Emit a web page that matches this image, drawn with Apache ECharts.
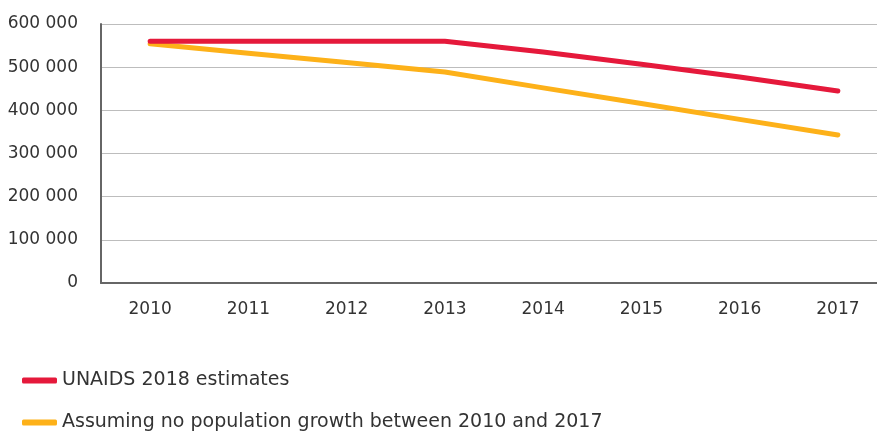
<!DOCTYPE html>
<html>
<head>
<meta charset="utf-8">
<script src="https://cdn.jsdelivr.net/npm/echarts@6/dist/echarts.min.js"></script>
<style>html,body{margin:0;padding:0;background:#fff;overflow:hidden}#c{width:887px;height:432px}</style>
</head>
<body>
<div id="c"></div>
<script>
var categories = ['2010','2011','2012','2013','2014','2015','2016','2017'];
var unaidsEstimates = [560000, 560000, 560000, 560000, 535000, 507000, 477000, 445000];
var noPopGrowth = [554000, 532000, 511000, 489000, 452000, 416000, 379000, 343000];
var seriesNames = ['UNAIDS 2018 estimates', 'Assuming no population growth between 2010 and 2017'];

var chart = echarts.init(document.getElementById('c'));
var font = '"DejaVu Sans", sans-serif';
function legendAt(name, top) {
  return {
    orient: 'horizontal', left: 22, top: top, padding: 0,
    itemWidth: 35, itemHeight: 6, icon: 'roundRect',
    textStyle: {fontFamily: font, fontSize: 19, color: '#333'},
    data: [name]
  };
}
chart.setOption({
  animation: false,
  grid: {left: 101, right: 0, top: 24, bottom: 149, containLabel: false},
  legend: [legendAt(seriesNames[0], 371), legendAt(seriesNames[1], 413)],
  xAxis: {
    type: 'category', data: categories, boundaryGap: true,
    axisLine: {lineStyle: {color: '#666', width: 2}},
    axisTick: {show: false},
    axisLabel: {fontFamily: font, fontSize: 17, color: '#333', margin: 18}
  },
  yAxis: {
    type: 'value', min: 0, max: 600000, interval: 100000,
    axisLine: {show: true, lineStyle: {color: '#666', width: 2}},
    axisTick: {show: false},
    splitLine: {lineStyle: {color: '#bdbdbd', width: 1}},
    axisLabel: {fontFamily: font, fontSize: 17, color: '#333', margin: 23,
      formatter: function (v) { return String(v).replace(/\B(?=(\d{3})+(?!\d))/g, ' '); }}
  },
  series: [
    {name: seriesNames[0], type: 'line', data: unaidsEstimates, symbol: 'none',
     color: '#e5193b', lineStyle: {width: 5, cap: 'round', join: 'round'}, z: 3},
    {name: seriesNames[1], type: 'line', data: noPopGrowth, symbol: 'none',
     color: '#fdb119', lineStyle: {width: 5, cap: 'round', join: 'round'}, z: 2}
  ]
});
</script>
</body>
</html>
